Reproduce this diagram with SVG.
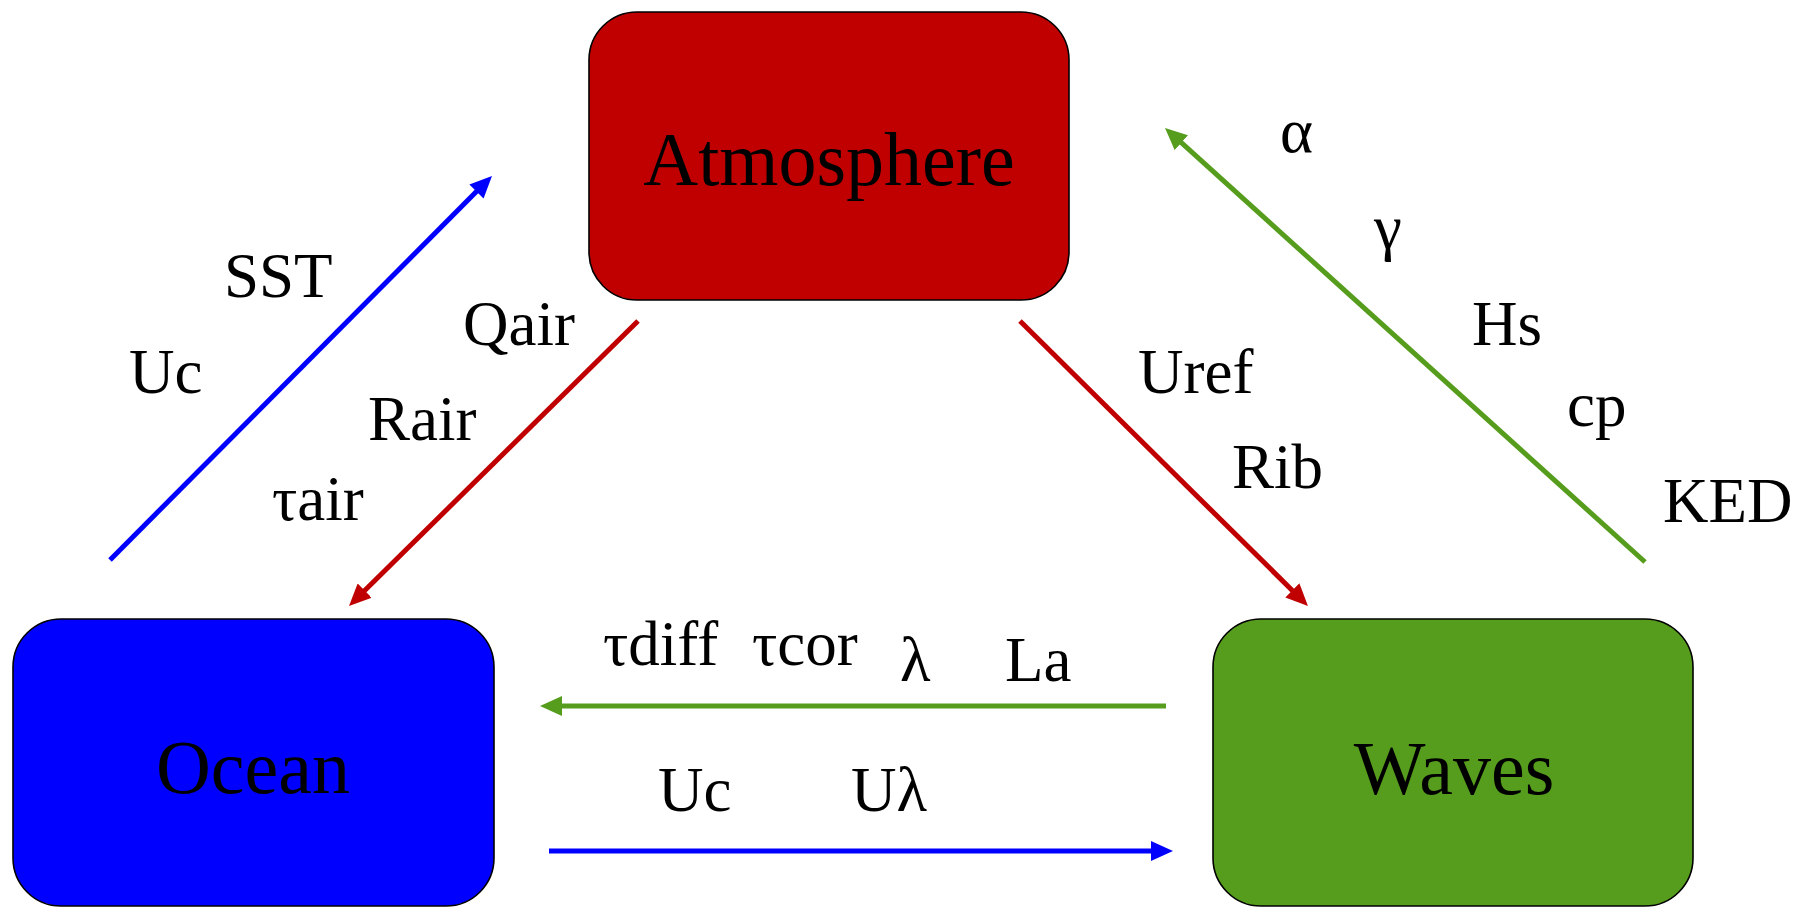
<svg xmlns="http://www.w3.org/2000/svg" width="1810" height="907" viewBox="0 0 1810 907">
  <style>
    .box { stroke: #000; stroke-width: 1.6; }
    .name { font-family: "Liberation Serif", "Times New Roman", serif; font-size: 76px; fill: #000; text-anchor: middle; }
    .lbl { font-family: "Liberation Serif", "Times New Roman", serif; font-size: 63px; fill: #000; }
    .link { fill: none; stroke-width: 5; }
  </style>
  <defs>
    <marker id="headBlue" markerUnits="userSpaceOnUse" markerWidth="24" markerHeight="20" refX="6" refY="10" orient="auto">
      <path d="M0,0 L22,10 L0,20 Z" fill="#0000FF"/>
    </marker>
    <marker id="headRed" markerUnits="userSpaceOnUse" markerWidth="24" markerHeight="20" refX="6" refY="10" orient="auto">
      <path d="M0,0 L22,10 L0,20 Z" fill="#C00000"/>
    </marker>
    <marker id="headGreen" markerUnits="userSpaceOnUse" markerWidth="24" markerHeight="20" refX="6" refY="10" orient="auto">
      <path d="M0,0 L22,10 L0,20 Z" fill="#569D1D"/>
    </marker>
  </defs>
  <rect width="1810" height="907" fill="#fff"/>

  <g id="atmosphere">
    <rect class="box" x="589" y="12" width="480" height="288" rx="48" ry="48" fill="#C00000"/>
    <text class="name" x="829" y="185" font-size="75">Atmosphere</text>
  </g>
  <g id="ocean">
    <rect class="box" x="13" y="619" width="481" height="287" rx="48" ry="48" fill="#0000FF"/>
    <text class="name" x="253" y="793">Ocean</text>
  </g>
  <g id="waves">
    <rect class="box" x="1213" y="619" width="480" height="287" rx="48" ry="48" fill="#569D1D"/>
    <text class="name" x="1454" y="794">Waves</text>
  </g>

  <g id="connectors">
    <line class="link" x1="110" y1="560" x2="480.7" y2="187.3" stroke="#0000FF" marker-end="url(#headBlue)"/>
    <line class="link" x1="638" y1="321" x2="360.4" y2="594.8" stroke="#C00000" marker-end="url(#headRed)"/>
    <line class="link" x1="1020" y1="321" x2="1296.6" y2="594.7" stroke="#C00000" marker-end="url(#headRed)"/>
    <line class="link" x1="1645" y1="562" x2="1176.9" y2="138.7" stroke="#569D1D" marker-end="url(#headGreen)"/>
    <line class="link" x1="1166" y1="706" x2="556" y2="706" stroke="#569D1D" marker-end="url(#headGreen)"/>
    <line class="link" x1="549" y1="851" x2="1157" y2="851" stroke="#0000FF" marker-end="url(#headBlue)"/>
  </g>

  <g id="labels">
    <!-- ocean to atmosphere -->
    <text class="lbl" x="224" y="297">SST</text>
    <text class="lbl" x="129" y="393">Uc</text>
    <!-- atmosphere to ocean -->
    <text class="lbl" x="463" y="345">Qair</text>
    <text class="lbl" x="368" y="440">Rair</text>
    <text class="lbl" x="272" y="520">τair</text>
    <!-- atmosphere to waves -->
    <text class="lbl" x="1138" y="393">Uref</text>
    <text class="lbl" x="1232" y="488">Rib</text>
    <!-- waves to atmosphere -->
    <text class="lbl" x="1280" y="152">α</text>
    <text class="lbl" x="1374" y="248">γ</text>
    <text class="lbl" x="1472" y="345">Hs</text>
    <text class="lbl" x="1567" y="426">cp</text>
    <text class="lbl" x="1663" y="522">KED</text>
    <!-- waves to ocean -->
    <text class="lbl" x="603" y="665">τdiff</text>
    <text class="lbl" x="752" y="665">τcor</text>
    <text class="lbl" x="900" y="681">λ</text>
    <text class="lbl" x="1005" y="681">La</text>
    <!-- ocean to waves -->
    <text class="lbl" x="658" y="811">Uc</text>
    <text class="lbl" x="851" y="811">Uλ</text>
  </g>
</svg>
